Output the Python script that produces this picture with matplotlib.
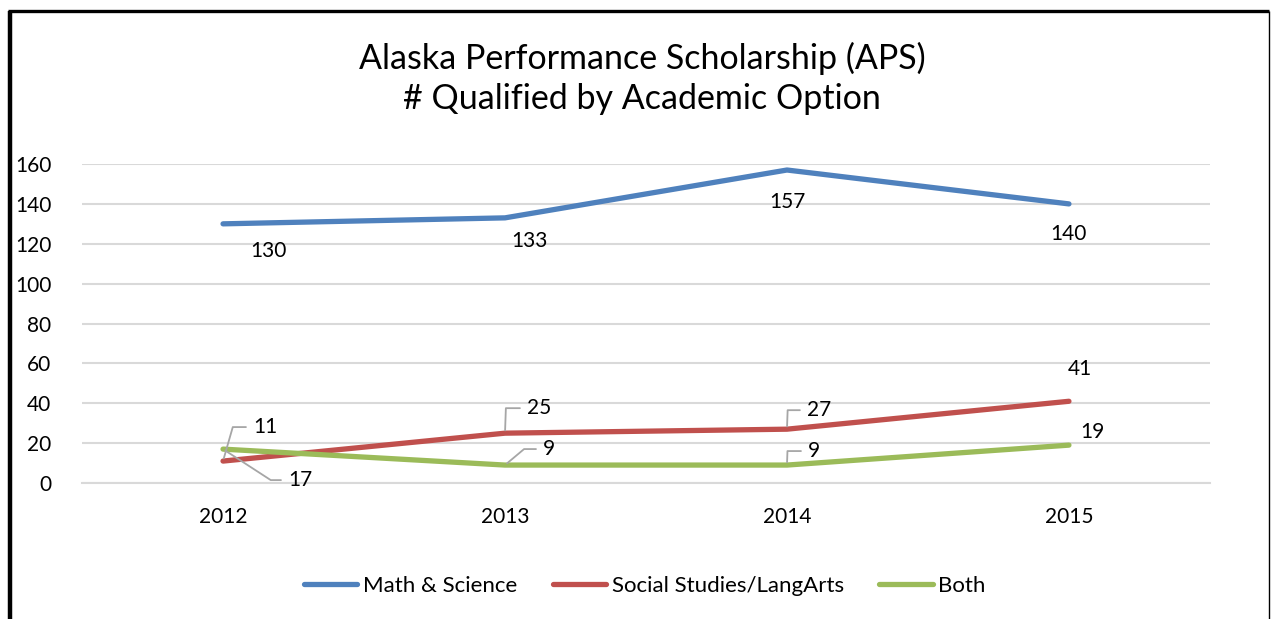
import matplotlib

matplotlib.use("Agg")
import matplotlib.pyplot as plt
from matplotlib.lines import Line2D

plt.rcParams["font.family"] = ["Lato", "DejaVu Sans"]

years = ["2012", "2013", "2014", "2015"]
math_science = [130, 133, 157, 140]
social_lang = [11, 25, 27, 41]
both = [17, 9, 9, 19]

series_names = ["Math & Science", "Social Studies/LangArts", "Both"]
colors = ["#4F81BD", "#C0504D", "#9BBB59"]

# label placement: (text offset in px, leader angle at the point or None)
label_style = {
    0: [((45, -27), None), ((24, -23), None), ((0, -32), None), ((0, -30), None)],
    1: [((42, 34), 74), ((34, 25), 88), ((32, 19), 88), ((11, 32), None)],
    2: [((77, -31), -33), ((44, 16), 40), ((27, 14), 88), ((23, 13), None)],
}

fig = plt.figure(figsize=(12.72, 6.19), dpi=100)
ax = fig.add_axes([0.0645, 0.2197, 0.8867, 0.5153])

x = list(range(len(years)))
all_series = [math_science, social_lang, both]
for values, name, color in zip(all_series, series_names, colors):
    ax.plot(x, values, color=color, lw=3.8, solid_capstyle="round",
            solid_joinstyle="round", label=name, zorder=3)

px = 0.72  # points per pixel at 100 dpi
for idx, values in enumerate(all_series):
    for i, v in enumerate(values):
        (dx, dy), ang = label_style[idx][i]
        kw = {}
        if ang is not None:
            kw["arrowprops"] = dict(arrowstyle="-", color="#A6A6A6", lw=1.3,
                                    connectionstyle=f"angle,angleA=0,angleB={ang},rad=0",
                                    relpos=(0, 0.5), shrinkA=3, shrinkB=2)
        ax.annotate(str(v), xy=(i, v), xytext=(dx * px, dy * px),
                    textcoords="offset points", ha="center", va="center",
                    fontsize=15, color="black", zorder=4, **kw)

ax.set_xlim(-0.5, len(years) - 0.5)
ax.set_ylim(0, 160)
ax.set_yticks(range(0, 161, 20))
ax.set_xticks(x)
ax.set_xticklabels(years)
ax.tick_params(axis="both", length=0, labelsize=15)
ax.tick_params(axis="x", pad=17)
ax.tick_params(axis="y", pad=22)
ax.grid(axis="y", color="#D9D9D9", lw=1.5)
ax.set_axisbelow(True)
for side in ["top", "right", "left"]:
    ax.spines[side].set_visible(False)
ax.spines["bottom"].set_color("#D9D9D9")
ax.spines["bottom"].set_linewidth(1.5)

fig.text(0.505, 0.873, "Alaska Performance Scholarship (APS)\n# Qualified by Academic Option",
         ha="center", va="center", fontsize=24.5, linespacing=1.3)

fig.legend(loc="center", bbox_to_anchor=(0.507, 0.053), ncol=3, frameon=False,
           fontsize=16, handlelength=2.4, handletextpad=0.25, columnspacing=1.6)

# outer frame (thick left/top, thin right)
fig.add_artist(Line2D([0.0079, 0.0079], [0, 0.983], color="black", lw=3.2,
                      transform=fig.transFigure, solid_capstyle="butt"))
fig.add_artist(Line2D([0.0063, 0.998], [0.983, 0.983], color="black", lw=2.4,
                      transform=fig.transFigure, solid_capstyle="butt"))
fig.add_artist(Line2D([0.998, 0.998], [0, 0.983], color="black", lw=1.0,
                      transform=fig.transFigure, solid_capstyle="butt"))

fig.savefig("out.png", dpi=100)
